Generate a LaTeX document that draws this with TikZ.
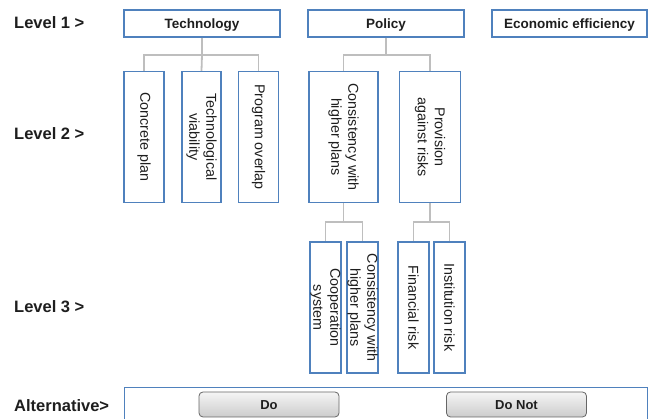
\documentclass[tikz,border=0pt]{standalone}
\usepackage{fontspec}
\setmainfont{Liberation Sans}
\usetikzlibrary{calc}
\definecolor{boxblue}{RGB}{79,129,189}
\definecolor{conngray}{RGB}{190,190,190}
\definecolor{txt}{RGB}{30,30,30}
\begin{document}
\begin{tikzpicture}[x=1pt,y=-1pt,
  lvl/.style={anchor=west,font=\fontsize{16.5}{18}\selectfont\bfseries,text=txt,inner sep=0},
  topbox/.style={draw=boxblue,line width=1.3pt,fill=white,minimum width=156,minimum height=27,inner sep=0,text height=11pt,text depth=1pt,font=\fontsize{13.5}{15}\selectfont\bfseries,text=txt},
  vbox/.style={draw=boxblue,line width=1.3pt,fill=white,rotate=-90,minimum width=131,inner sep=0,align=center,font=\fontsize{14.3}{17}\selectfont,text=txt},
  conn/.style={draw=conngray,line width=1.8pt},
  btn/.style={draw=black!60,line width=0.8pt,rounded corners=4pt,top color=gray!8,bottom color=gray!40,minimum width=140,minimum height=25,inner sep=0,text height=11pt,text depth=1pt,font=\fontsize{13}{15}\selectfont\bfseries,text=txt}]
\useasboundingbox (0,0) rectangle (649,419);
\clip (0,0) rectangle (649,419);
% level labels
\node[lvl] (l1) at (14,23) {Level 1 >};
\node[lvl] (l2) at (14,134) {Level 2 >};
\node[lvl] (l3) at (14,307) {Level 3 >};
\node[lvl] (l4) at (14,406) {Alternative>};
% level 1
\node[topbox] (tech) at (202,23.5) {Technology};
\node[topbox] (pol) at (386,23.5) {Policy};
\node[topbox,minimum width=155] (eco) at (569.5,23.5) {Economic efficiency};
% level 2
\node[vbox,minimum height=40] (c1) at (144,137) {Concrete plan};
\node[vbox,minimum height=39] (c2) at (201.5,137) {Technological\\viability};
\node[vbox,minimum height=40] (c3) at (258.5,137) {Program overlap};
\node[vbox,minimum height=69] (p1) at (343.5,137) {Consistency with\\higher plans};
\node[vbox,minimum height=61] (p2) at (430,137) {Provision\\against risks};
% level 3
\node[vbox,minimum height=31] (q1) at (325.5,307.5) {Cooperation\\system};
\node[vbox,minimum height=31] (q2) at (362.5,307.5) {Consistency with\\higher plans};
\node[vbox,minimum height=31] (r1) at (413.5,307.5) {Financial risk};
\node[vbox,minimum height=31] (r2) at (449.5,307.5) {Institution risk};
% connectors
\coordinate (tj) at (202,55);
\draw[conn] (tech.south) -- (tj);
\draw[conn] (tj) -| (c1.west);
\draw[conn] (tj) -| (c3.west);
\draw[conn] (tj) -- (c2.west);
\coordinate (pj) at (386,55);
\draw[conn] (pol.south) -- (pj);
\draw[conn] (pj) -| (p1.west);
\draw[conn] (pj) -| (p2.west);
\coordinate (qj) at (343.5,222);
\draw[conn] (p1.east) -- (qj);
\draw[conn] (qj) -| (q1.west);
\draw[conn] (qj) -| (q2.west);
\coordinate (rj) at (430,222);
\draw[conn] (p2.east) -- (rj);
\draw[conn] (rj) -| (r1.west);
\draw[conn] (rj) -| (r2.west);
% alternatives
\node[draw=boxblue,line width=1.3pt,minimum width=523,minimum height=40,inner sep=0,anchor=north west] (alt) at (124,387) {};
\node[btn] (do) at (269,404.5) {Do};
\node[btn] (donot) at (516.5,404.5) {Do Not};
\end{tikzpicture}
\end{document}
